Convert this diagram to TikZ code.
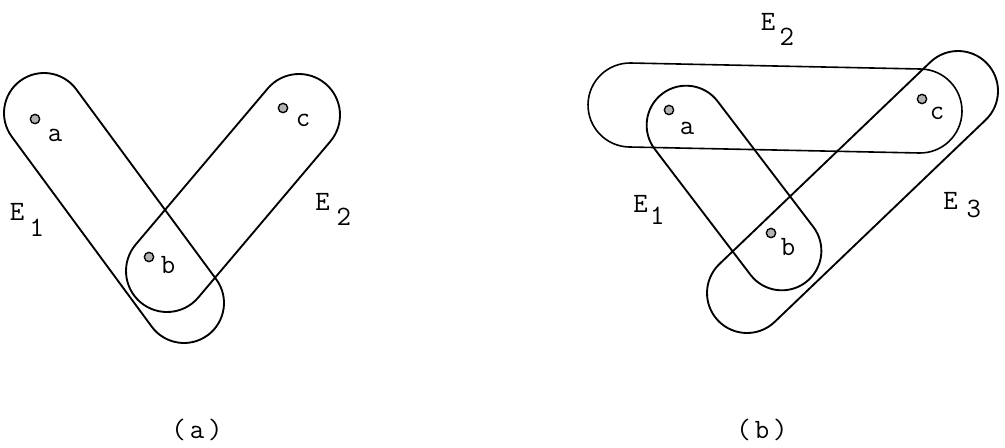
\documentclass[tikz,border=0pt]{standalone}
\usepackage{tikz}
\usetikzlibrary{calc,positioning,shapes.misc}

\begin{document}
\begin{tikzpicture}[x=0.75pt,y=-0.75pt,every node/.style={font=\fontsize{21}{24}\selectfont\ttfamily},hedge/.style={draw,line width=1.4pt,rounded rectangle,inner sep=0pt},vertex/.style={circle,draw,line width=1pt,fill=gray!60,inner sep=0pt,minimum size=7pt},vlbl/.style={anchor=base west,inner sep=0pt},elbl/.style={anchor=base west,inner sep=0pt}]
\useasboundingbox (0,0) rectangle (1005,447);
% (a)
\coordinate (e1as) at (44,113); \coordinate (e1at) at (184,303);
\coordinate (e2as) at (299,115); \coordinate (e2at) at (167,271);
\path let \p1=($(e1at)-(e1as)$) in (e1as) -- (e1at) node[hedge,midway,sloped,minimum width={veclen(\x1,\y1)+60pt},minimum height=60pt] (E1a) {};
\path let \p1=($(e2at)-(e2as)$) in (e2as) -- (e2at) node[hedge,midway,sloped,minimum width={veclen(\x1,\y1)+61.5pt},minimum height=61.5pt] (E2a) {};
\node[vertex] (ua) at (35,119) {};
\node[vertex] (ub) at (149,257) {};
\node[vertex] (uc) at (283,108) {};
\node[vlbl] (ula) at ($(ua)+(12.6,22)$) {a};
\node[vlbl] (ulb) at ($(ub)+(11.6,16.5)$) {b};
\node[vlbl] (ulc) at ($(uc)+(12.6,18)$) {c};
\node[elbl] (lE1a) at (9.6,220.5) {E\kern4pt\raisebox{-12pt}{1}};
\node[elbl] (lE2a) at (315.2,210.5) {E\kern5.1pt\raisebox{-11.6pt}{2}};
\node (capa) at (197,430) {(\kern3pt a\kern3pt)};
% (b)
\coordinate (e1bs) at (686,125); \coordinate (e1bt) at (782,251);
\coordinate (e2bs) at (630,105); \coordinate (e2bt) at (920,111);
\coordinate (e3bs) at (958,91); \coordinate (e3bt) at (747,293);
\path let \p1=($(e1bt)-(e1bs)$) in (e1bs) -- (e1bt) node[hedge,midway,sloped,minimum width={veclen(\x1,\y1)+59.25pt},minimum height=59.25pt] (E1b) {};
\path let \p1=($(e2bt)-(e2bs)$) in (e2bs) -- (e2bt) node[hedge,line width=1.2pt,midway,sloped,minimum width={veclen(\x1,\y1)+63pt},minimum height=63pt] (E2b) {};
\path let \p1=($(e3bt)-(e3bs)$) in (e3bs) -- (e3bt) node[hedge,midway,sloped,minimum width={veclen(\x1,\y1)+60pt},minimum height=60pt] (E3b) {};
\node[vertex] (va) at (669,110) {};
\node[vertex] (vb) at (771,233) {};
\node[vertex] (vc) at (922,99) {};
\node[vlbl] (vla) at ($(va)+(10.6,24)$) {a};
\node[vlbl] (vlb) at ($(vb)+(9.6,22.5)$) {b};
\node[vlbl] (vlc) at ($(vc)+(7.6,20)$) {c};
\node[elbl] (lE2b) at (760.6,30.5) {E\kern3.2pt\raisebox{-11pt}{2}};
\node[elbl] (lE1b) at (633.2,212) {E\kern1.7pt\raisebox{-9pt}{1}};
\node[elbl] (lE3b) at (943.2,209.5) {E\kern6.6pt\raisebox{-6pt}{3}};
\node (capb) at (762,430) {(\kern3pt b\kern3pt)};
\end{tikzpicture}
\end{document}
